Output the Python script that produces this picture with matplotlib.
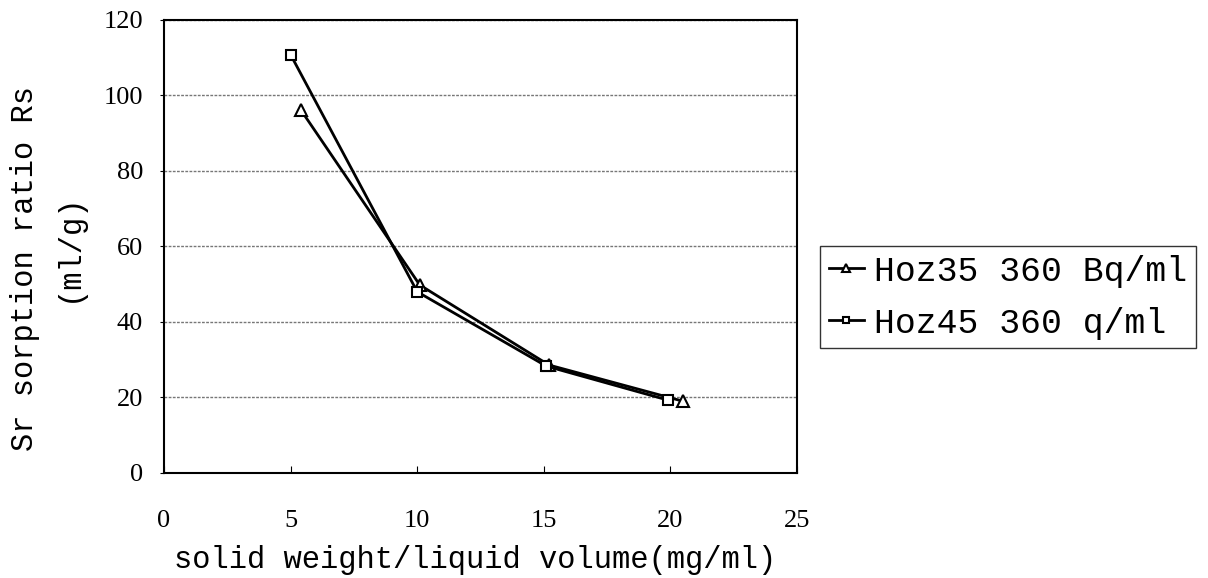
import matplotlib
matplotlib.use("Agg")
import matplotlib.pyplot as plt

# data
hoz35_x = [5.4, 10.1, 15.2, 20.5]
hoz35_y = [96.2, 49.8, 28.6, 19.0]
hoz45_x = [5.0, 10.0, 15.1, 19.9]
hoz45_y = [110.8, 48.0, 28.3, 19.3]

labels = ["Hoz35 360 Bq/ml", "Hoz45 360 q/ml"]
x_ticks = [0, 5, 10, 15, 20, 25]
y_ticks = [0, 20, 40, 60, 80, 100, 120]

MONO = "Liberation Mono"
SERIF = "Liberation Serif"

fig = plt.figure(figsize=(12.08, 5.78), dpi=100)
ax = fig.add_axes([0.1358, 0.1817, 0.524, 0.7837])

ax.plot(hoz35_x, hoz35_y, color="black", lw=2, marker="^", ms=8,
        mfc="white", mec="black", mew=1.5, label=labels[0])
ax.plot(hoz45_x, hoz45_y, color="black", lw=2, marker="s", ms=7,
        mfc="white", mec="black", mew=1.5, label=labels[1])

ax.set_xlim(0, 25)
ax.set_ylim(0, 120)
ax.set_xticks(x_ticks)
ax.set_yticks(y_ticks)
ax.yaxis.grid(True, color="#777777", ls=(0, (2, 1)), lw=1)
ax.set_axisbelow(True)
for s in ax.spines.values():
    s.set_linewidth(1.5)

ax.tick_params(axis="x", direction="in", length=5, pad=27, labelsize=19)
ax.tick_params(axis="y", direction="out", length=3, pad=12, labelsize=19)
for t in ax.get_xticklabels() + ax.get_yticklabels():
    t.set_fontfamily(SERIF)

fig.text(0.393, 0.031, "solid weight/liquid volume(mg/ml)", fontsize=22,
         fontfamily=MONO, ha="center", va="center")
fig.text(0.0207, 0.5363, "Sr sorption ratio Rs", fontsize=22,
         fontfamily=MONO, rotation=90, ha="center", va="center")
fig.text(0.0571, 0.5727, "(ml/g)", fontsize=22,
         fontfamily=MONO, rotation=90, ha="center", va="center")

fig.legend(loc="center left", bbox_to_anchor=(0.679, 0.486),
           prop={"family": MONO, "size": 25}, frameon=True, fancybox=False,
           edgecolor="black", handlelength=1.0, handletextpad=0.3,
           borderpad=0.25, labelspacing=0.55, borderaxespad=0,
           markerscale=0.7)

fig.savefig("out.png", dpi=100)
